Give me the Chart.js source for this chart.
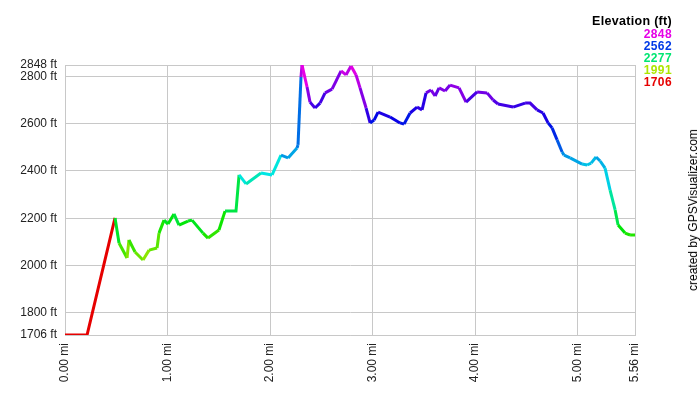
<!DOCTYPE html>
<html>
<head>
<meta charset="utf-8">
<script src="https://cdn.jsdelivr.net/npm/chart.js@4.4.0/dist/chart.umd.min.js"></script>
<style>
  html, body { margin:0; padding:0; background:#fff; }
  #wrap { position:relative; width:700px; height:400px; font-family:"Liberation Sans", Arial, sans-serif; }
  #legend { position:absolute; right:28px; top:15px; text-align:right; font-weight:bold; font-size:12px; line-height:12px; }
  #legend .title { color:#000; font-size:12.5px; margin-bottom:1px; letter-spacing:0.3px; }
  #legend .val { letter-spacing:0.4px; }
  #credit { position:absolute; left:693px; top:210px; transform:translate(-50%,-50%) rotate(-90deg); white-space:nowrap; font-size:12px; color:#000; }
</style>
</head>
<body>
<div id="wrap">
  <canvas id="elev" width="700" height="400"></canvas>
  <div id="legend"></div>
  <div id="credit">created by GPSVisualizer.com</div>
</div>
<script>
/* track profile */
const distMi = [0, 0.215, 0.488, 0.527, 0.605, 0.624, 0.683, 0.761, 0.820, 0.898, 0.917, 0.966, 1.005, 1.063, 1.112, 1.200,
  1.239, 1.346, 1.395, 1.502, 1.561, 1.668, 1.698, 1.766, 1.912, 2.020, 2.107, 2.176, 2.263, 2.273, 2.302, 2.312,
  2.361, 2.390, 2.439, 2.488, 2.537, 2.605, 2.693, 2.741, 2.790, 2.839, 2.878, 2.937, 2.976, 3.015, 3.054, 3.171,
  3.268, 3.307, 3.366, 3.434, 3.483, 3.522, 3.571, 3.610, 3.649, 3.707, 3.756, 3.844, 3.912, 4.020, 4.117, 4.176,
  4.224, 4.371, 4.488, 4.537, 4.605, 4.663, 4.712, 4.751, 4.800, 4.849, 4.868, 4.927, 5.044, 5.093, 5.132, 5.180,
  5.220, 5.268, 5.317, 5.366, 5.395, 5.463, 5.512, 5.56];
const elevFt = [1706, 1706, 2201, 2095, 2032, 2108, 2057, 2023, 2065, 2074, 2137, 2192, 2175, 2218, 2171, 2188,
  2192, 2137, 2116, 2150, 2230, 2230, 2383, 2345, 2391, 2383, 2467, 2455, 2497, 2510, 2797, 2848,
  2755, 2691, 2666, 2687, 2730, 2746, 2823, 2806, 2844, 2806, 2751, 2666, 2603, 2615, 2649, 2628,
  2603, 2598, 2645, 2670, 2658, 2730, 2742, 2717, 2751, 2738, 2763, 2751, 2691, 2734, 2730, 2700,
  2683, 2670, 2687, 2687, 2658, 2645, 2603, 2582, 2531, 2480, 2467, 2455, 2429, 2425, 2433, 2459,
  2442, 2412, 2319, 2235, 2171, 2137, 2129, 2129];

const xTicks = [0, 1, 2, 3, 4, 5, 5.56];
const yTicks = [1706, 1800, 2000, 2200, 2400, 2600, 2800, 2848];
const legendVals = [2848, 2562, 2277, 1991, 1706];

const ELEV_MIN = 1706, ELEV_MAX = 2848;

function elevColor(v) {
    const hue = 300 * (v - ELEV_MIN) / (ELEV_MAX - ELEV_MIN);
    return `hsl(${hue.toFixed(1)}, 100%, 45%)`;
}

/* legend */
const legendEl = document.getElementById('legend');
legendEl.innerHTML = '<div class="title">Elevation (ft)</div>' +
    legendVals.map(v => `<div class="val" style="color:${elevColor(v)}">${v}</div>`).join('');

const GRID = { color:'#c8c8c8', lineWidth:1, drawTicks:false };
const TICK_FONT = { family:'"Liberation Sans", Arial, sans-serif', size:12 };

new Chart(document.getElementById('elev').getContext('2d'), {
    type: 'line',
    data: {
        datasets: [{
            data: distMi.map((d, i) => ({ x:d, y:elevFt[i] })),
            borderWidth: 3,
            pointRadius: 0,
            tension: 0,
            borderColor: '#e60000',
            segment: { borderColor: ctx => elevColor(ctx.p0.parsed.y) }
        }]
    },
    options: {
        responsive: false,
        animation: false,
        layout: { padding:{ top:65, right:65, left:0, bottom:0 } },
        plugins: { legend:{ display:false }, tooltip:{ enabled:false } },
        scales: {
            x: {
                type: 'linear', min:0, max:5.56,
                afterBuildTicks: s => { s.ticks = xTicks.map(v => ({ value:v })); },
                afterFit: s => { s.height = 65; },
                grid: GRID,
                border: { color:'#c8c8c8' },
                ticks: { autoSkip:false, minRotation:90, maxRotation:90, padding:8, color:'#222', font:TICK_FONT,
                         callback: v => Number(v).toFixed(2) + ' mi' }
            },
            y: {
                type: 'linear', min:ELEV_MIN, max:ELEV_MAX,
                afterBuildTicks: s => { s.ticks = yTicks.map(v => ({ value:v })); },
                afterFit: s => { s.width = 65; },
                grid: GRID,
                border: { color:'#c8c8c8' },
                ticks: { autoSkip:false, padding:8, color:'#222', font:TICK_FONT,
                         callback: v => v + ' ft' }
            }
        }
    }
});
</script>
</body>
</html>
